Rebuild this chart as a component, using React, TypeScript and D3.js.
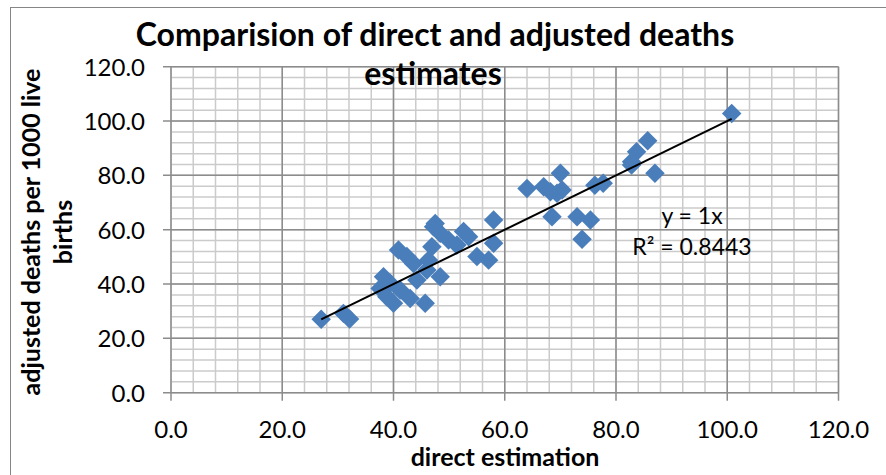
import React from "react"
import * as d3 from "d3"

const WIDTH = 886
const HEIGHT = 475

// direct estimation vs adjusted deaths per 1000 live births
const directEst = [
  27.0, 31.0, 32.1, 37.6, 38.2, 38.8, 39.4, 40.0, 41.2, 40.9, 42.4, 43.6, 43.0, 44.2, 45.7, 46.3,
  46.9, 47.2, 48.4, 48.4, 46.0, 49.9, 51.4, 52.6, 53.5, 55.0, 57.1, 58.0, 58.0, 47.5, 64.0, 67.0,
  68.2, 69.4, 70.3, 70.0, 68.5, 73.0, 75.4, 73.9, 76.2, 77.7, 82.8, 82.8, 83.7, 85.7, 87.0, 100.8,
]
const adjustedDeaths = [
  27.0, 29.2, 27.1, 38.4, 42.7, 35.3, 40.3, 32.9, 37.8, 52.5, 50.1, 47.6, 34.7, 41.5, 32.9, 48.8,
  53.7, 61.1, 58.7, 42.7, 45.2, 56.2, 54.4, 59.3, 57.4, 50.1, 48.8, 55.0, 63.6, 62.3, 75.2, 75.8,
  74.0, 73.4, 74.6, 80.8, 64.8, 64.8, 63.6, 56.5, 76.4, 77.1, 85.0, 83.8, 88.7, 92.7, 80.8, 102.8,
]
const xTicks = [0, 20, 40, 60, 80, 100, 120]
const yTicks = [0, 20, 40, 60, 80, 100, 120]
const minorStep = 4
const trendSlope = 1

const FONT = "Lato, 'Open Sans', sans-serif"
const MARGIN = { left: 171, right: 886 - 838.5, top: 66.7, bottom: 475 - 392.7 }

export default function App() {
  const x = d3.scaleLinear().domain([0, 120]).range([MARGIN.left, WIDTH - MARGIN.right])
  const y = d3.scaleLinear().domain([0, 120]).range([HEIGHT - MARGIN.bottom, MARGIN.top])
  const [x0, x1] = x.range()
  const [y0, y1] = y.range()

  const minor = d3.range(0, 120 + 0.001, minorStep)
  const points = directEst.map((d, i) => ({ x: d, y: adjustedDeaths[i] }))
  const diamond = d3.symbol(d3.symbolSquare, 190)()
  const xMin = d3.min(directEst) as number
  const xMax = d3.max(directEst) as number

  return (
    <div style={{ position: "fixed", left: 0, top: 0 }}>
      <svg width={WIDTH} height={HEIGHT} style={{ display: "block", background: "#fff" }}>
        <rect x={10.5} y={7.5} width={WIDTH + 10} height={HEIGHT + 10} fill="#fff" stroke="#868686" />

        {/* minor grid */}
        {minor.map((v) => (
          <g key={"m" + v}>
            <line x1={x(v)} x2={x(v)} y1={y0} y2={y1} stroke="#cbcbcb" strokeWidth={1.5} />
            <line x1={x0} x2={x1} y1={y(v)} y2={y(v)} stroke="#cbcbcb" strokeWidth={1.5} />
          </g>
        ))}
        {/* major grid + ticks */}
        {xTicks.map((v) => (
          <g key={"x" + v}>
            <line x1={x(v)} x2={x(v)} y1={y0 + 8} y2={y1} stroke="#8c8c8c" strokeWidth={1.5} />
            <text x={x(v)} y={437.5} textAnchor="middle" fontFamily={FONT} fontSize={24} fill="#000">
              {v.toFixed(1)}
            </text>
          </g>
        ))}
        {yTicks.map((v) => (
          <g key={"y" + v}>
            <line x1={x0 - 8} x2={x1} y1={y(v)} y2={y(v)} stroke="#8c8c8c" strokeWidth={1.5} />
            <text x={145} y={y(v) + 9} textAnchor="end" fontFamily={FONT} fontSize={24} fill="#000">
              {v.toFixed(1)}
            </text>
          </g>
        ))}

        {/* points */}
        {points.map((p, i) => (
          <path
            key={i}
            d={diamond ?? ""}
            transform={`translate(${x(p.x)},${y(p.y)}) rotate(45)`}
            fill="#4a7ebb"
          />
        ))}

        {/* trendline */}
        <line
          x1={x(xMin)}
          y1={y(xMin * trendSlope)}
          x2={x(xMax)}
          y2={y(xMax * trendSlope)}
          stroke="#000"
          strokeWidth={2}
        />
        <text x={692} y={224} textAnchor="middle" fontFamily={FONT} fontSize={23} fill="#000">
          y = 1x
        </text>
        <text x={692} y={255} textAnchor="middle" fontFamily={FONT} fontSize={23} fill="#000">
          R² = 0.8443
        </text>

        {/* title */}
        <text x={435} y={46} textAnchor="middle" fontFamily={FONT} fontWeight="bold" fontSize={32} fill="#000">
          Comparision of direct and adjusted deaths
        </text>
        <text x={433} y={85} textAnchor="middle" fontFamily={FONT} fontWeight="bold" fontSize={32} fill="#000">
          estimates
        </text>

        {/* axis titles */}
        <text x={505} y={466} textAnchor="middle" fontFamily={FONT} fontWeight="bold" fontSize={25} fill="#000">
          direct estimation
        </text>
        <g transform="translate(0,232) rotate(-90)">
          <text x={0} y={40} textAnchor="middle" fontFamily={FONT} fontWeight="bold" fontSize={25} fill="#000">
            adjusted deaths per 1000 live
          </text>
          <text x={0} y={72} textAnchor="middle" fontFamily={FONT} fontWeight="bold" fontSize={25} fill="#000">
            births
          </text>
        </g>
      </svg>
    </div>
  )
}
